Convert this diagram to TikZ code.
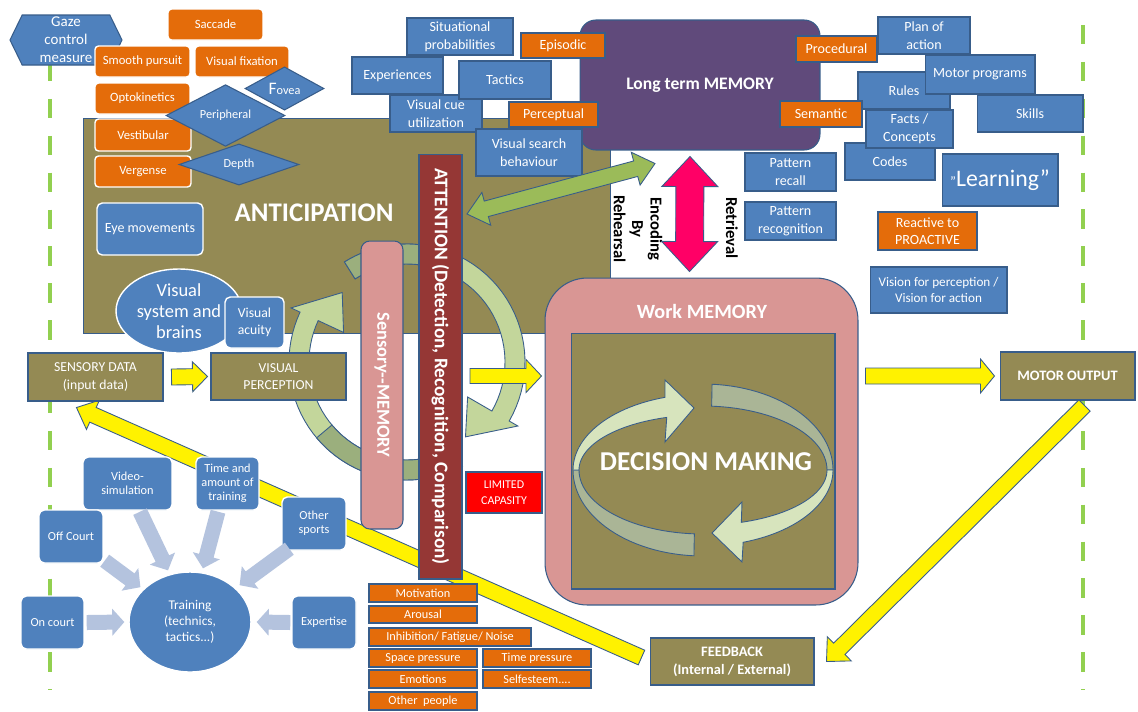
\documentclass[tikz,border=0pt]{standalone}
\usepackage{fontspec}
\setmainfont{Carlito}
\usepackage{tikz}
\usetikzlibrary{calc,shapes.geometric,shapes.symbols}
\definecolor{bbox}{HTML}{4F81BD}
\definecolor{obox}{HTML}{E46C0A}
\definecolor{lineblue}{HTML}{385D8A}
\definecolor{olive}{HTML}{948A54}
\definecolor{pinkbox}{HTML}{D99694}
\definecolor{attred}{HTML}{953735}
\definecolor{ltmpurple}{HTML}{604A7B}
\definecolor{dashgreen}{HTML}{92D050}
\definecolor{arrowgreen}{HTML}{9BBB59}
\definecolor{hotpink}{HTML}{FF0066}
\definecolor{circlight}{HTML}{C3D69B}
\definecolor{circdark}{HTML}{9BAF7D}
\definecolor{declight}{HTML}{D7E4BD}
\definecolor{decdark}{HTML}{AAB596}
\definecolor{tblue}{HTML}{B4C3DE}
\definecolor{limred}{HTML}{FF0000}
\pgfdeclarelayer{back}
\pgfsetlayers{back,main}

\begin{document}
\begin{tikzpicture}[x=0.02cm, y=-0.02cm]
    %
    \tikzset{
        plainbox/.style={inner sep=0pt, text=white, align=center},
        bb/.style={plainbox, fill=bbox, draw=lineblue, line width=0.6pt, font=\fontsize{8}{10}\selectfont},
        ob/.style={plainbox, fill=obox, draw=lineblue, line width=0.6pt, font=\fontsize{8}{10}\selectfont},
        orr/.style={plainbox, fill=obox, draw=white, line width=0.8pt, rounded corners=2pt, font=\fontsize{7.2}{8.6}\selectfont},
        brr/.style={plainbox, fill=bbox, draw=white, line width=0.8pt, rounded corners=3pt, font=\fontsize{7}{8}\selectfont},
        dia/.style={plainbox, diamond, fill=bbox, draw=lineblue, line width=0.6pt, font=\fontsize{7}{8}\selectfont},
        obx/.style={plainbox, fill=olive, draw=lineblue, line width=0.6pt, font=\fontsize{7.8}{10}\selectfont},
        stress/.style={ob, font=\fontsize{7}{8}\selectfont, minimum width=2.16cm, minimum height=0.36cm},
        dashline/.style={draw=dashgreen, line width=2.8pt, dash pattern=on 11pt off 10pt},
        yarrow/.style={fill=yellow, draw=lineblue, line width=0.5pt},
        tarrow/.style={fill=tblue, draw=none},
        garrow/.style={fill=arrowgreen, draw=lineblue, line width=0.5pt},
        parrow/.style={fill=hotpink, draw=lineblue, line width=0.5pt},
        clight/.style={fill=circlight, draw=lineblue, line width=0.5pt},
        cdark/.style={fill=circdark, draw=lineblue, line width=0.5pt},
        dlight/.style={fill=declight, draw=lineblue, line width=0.5pt},
        ddark/.style={fill=decdark, draw=lineblue, line width=0.5pt}
    }
    \useasboundingbox (0,0) rectangle (1138,711);

    %
    \begin{pgfonlayer}{back}
        \fill[white] (0,0) rectangle (1138,711);
        \draw[dashline] (50,62) -- (50,690);
        \draw[dashline] (1083,25) -- (1083,690);
    \end{pgfonlayer}

    %
    \node[fill=olive, draw=lineblue, line width=0.5pt, inner sep=0pt, minimum width=10.54cm, minimum height=4.30cm] (antic) at (346.5,225.5) {};
    \node[text=white, font=\bfseries\fontsize{15.3}{18}\selectfont] (anticlbl) at (314,213) {ANTICIPATION};

    %
    \node[signal, signal to=west and east, signal pointer angle=128, fill=bbox, draw=lineblue, line width=0.6pt, text=white, align=center, inner sep=0pt, minimum width=2.24cm, minimum height=1.0cm, font=\fontsize{8.5}{10.2}\selectfont] (gaze) at (66,40) {Gaze\\control\\measure};

    %
    \node[orr, minimum width=1.90cm, minimum height=0.62cm] (sacc) at (215.5,24.5) {Saccade};
    \node[orr, minimum width=1.90cm, minimum height=0.62cm] (smooth) at (142.5,61.5) {Smooth pursuit};
    \node[orr, minimum width=1.88cm, minimum height=0.62cm] (vfix) at (242,61.5) {Visual fixation};
    \node[orr, minimum width=1.90cm, minimum height=0.62cm] (opto) at (142.5,98.5) {Optokinetics};
    \node[orr, minimum width=1.92cm, minimum height=0.64cm] (vest) at (143,135) {Vestibular};
    \node[orr, minimum width=1.92cm, minimum height=0.62cm] (verg) at (143,171.5) {Vergense};

    %
    \node[dia, minimum width=1.58cm, minimum height=0.74cm] (fovea) at (284.5,88.5) {{\fontsize{10}{10}\selectfont F}ovea};
    \node[dia, minimum width=2.38cm, minimum height=0.74cm] (periph) at (225.5,115.5) {Peripheral};
    \node[dia, minimum width=2.40cm, minimum height=0.74cm] (depth) at (239,164.5) {Depth};

    %
    \node[brr, font=\fontsize{8}{10}\selectfont, minimum width=2.12cm, minimum height=1.04cm] (eyemov) at (150,229) {Eye movements};
    \node[plainbox, ellipse, fill=bbox, draw=white, line width=0.8pt, minimum width=2.52cm, minimum height=1.68cm, font=\fontsize{10.5}{12}\selectfont] (vsys) at (179,311) {Visual\\system and\\brains};
    \node[brr, font=\fontsize{7.8}{9.5}\selectfont, minimum width=1.18cm, minimum height=1.02cm] (vacuity) at (254.5,322.5) {Visual\\acuity};
    \node[obx, minimum width=2.70cm, minimum height=0.96cm] (sens) at (95.5,377) {SENSORY DATA\\(input data)};

    %
    \begin{scope}[shift={(407,362)}]
        \filldraw[clight] plot[domain=238:390, samples=40] ({118*cos(\x)},{118*sin(\x)}) -- ({128*cos(30)},{128*sin(30)}) -- ({95*cos(52)},{95*sin(52)}) -- ({70*cos(30)},{70*sin(30)}) -- plot[domain=390:238, samples=40] ({98*cos(\x)},{98*sin(\x)}) -- cycle;
        \filldraw[cdark] plot[domain=238:295, samples=20] ({118*cos(\x)},{118*sin(\x)}) -- plot[domain=295:238, samples=20] ({98*cos(\x)},{98*sin(\x)}) -- cycle;
        \filldraw[clight] plot[domain=62:205, samples=40] ({118*cos(\x)},{118*sin(\x)}) -- ({128*cos(205)},{128*sin(205)}) -- ({95*cos(227)},{95*sin(227)}) -- ({70*cos(205)},{70*sin(205)}) -- plot[domain=205:62, samples=40] ({98*cos(\x)},{98*sin(\x)}) -- cycle;
        \filldraw[cdark] plot[domain=62:140, samples=20] ({118*cos(\x)},{118*sin(\x)}) -- plot[domain=140:62, samples=20] ({98*cos(\x)},{98*sin(\x)}) -- cycle;
    \end{scope}

    %
    \node[obx, minimum width=2.70cm, minimum height=0.94cm] (vp) at (278.5,376.5) {VISUAL\\PERCEPTION};
    \node[plainbox, rotate=-90, fill=pinkbox, draw=lineblue, line width=0.6pt, rounded corners=5pt, minimum width=5.76cm, minimum height=0.84cm, font=\bfseries\fontsize{10.5}{12}\selectfont] (smem) at (382,385) {Sensory-{}-MEMORY};
    \node[plainbox, rotate=-90, fill=attred, draw=lineblue, line width=0.6pt, minimum width=8.50cm, minimum height=0.86cm, font=\bfseries\fontsize{11}{13}\selectfont] (att) at (440.5,366.5) {ATTENTION (Detection, Recognition, Comparison)};

    %
    \node[plainbox, fill=ltmpurple, draw=lineblue, line width=0.6pt, rounded corners=9pt, minimum width=4.80cm, minimum height=2.60cm, font=\bfseries\fontsize{10}{12}\selectfont] (ltm) at (700,85) {Long term MEMORY};

    %
    \node[bb, minimum width=2.12cm, minimum height=0.74cm] (situ) at (460,36.5) {Situational\\probabilities};
    \node[bb, minimum width=1.82cm, minimum height=0.74cm] (exper) at (397.5,75.5) {Experiences};
    \node[bb, minimum width=1.84cm, minimum height=0.74cm] (vcue) at (436,113.5) {Visual cue\\utilization};
    \node[bb, minimum width=1.84cm, minimum height=0.76cm] (tact) at (505,80) {Tactics};
    \node[bb, minimum width=2.12cm, minimum height=0.94cm] (vsearch) at (529,152.5) {Visual search\\behaviour};
    \node[ob, minimum width=1.68cm, minimum height=0.50cm] (epis) at (563,45.5) {Episodic};
    \node[ob, minimum width=1.78cm, minimum height=0.50cm] (perc) at (553.5,114.5) {Perceptual};

    %
    \node[bb, minimum width=1.84cm, minimum height=0.74cm] (plan) at (924,35.5) {Plan of\\action};
    \node[bb, minimum width=1.84cm, minimum height=0.74cm] (rules) at (904,90.5) {Rules};
    \node[bb, minimum width=2.20cm, minimum height=0.78cm] (motprog) at (980,74.5) {Motor programs};
    \node[bb, minimum width=2.12cm, minimum height=0.74cm] (skills) at (1030,113.5) {Skills};
    \node[bb, minimum width=1.80cm, minimum height=0.74cm] (codes) at (890,161.5) {Codes};
    \node[bb, minimum width=1.74cm, minimum height=0.76cm] (facts) at (909.5,129) {Facts /\\Concepts};
    \node[ob, minimum width=1.62cm, minimum height=0.52cm] (proc) at (836.5,49) {Procedural};
    \node[ob, minimum width=1.64cm, minimum height=0.52cm] (sema) at (821,114) {Semantic};
    \node[bb, font=\fontsize{13.5}{15}\selectfont, minimum width=2.32cm, minimum height=1.04cm] (learn) at (1000,180) {{\fontsize{8}{8}\selectfont ”}Learning”};
    \node[bb, minimum width=1.82cm, minimum height=0.76cm] (precall) at (790.5,172) {Pattern\\recall};
    \node[bb, minimum width=1.82cm, minimum height=0.76cm] (precog) at (790.5,221) {Pattern\\recognition};
    \node[ob, minimum width=1.98cm, minimum height=0.76cm] (react) at (927.5,231) {Reactive to\\PROACTIVE};
    \node[bb, font=\fontsize{7.5}{9.2}\selectfont, minimum width=2.74cm, minimum height=0.92cm] (vision) at (938.5,290) {Vision for perception /\\Vision for action};

    %
    \node[fill=pinkbox, draw=lineblue, line width=0.6pt, rounded corners=24pt, inner sep=0pt, minimum width=6.26cm, minimum height=6.54cm] (wm) at (701.5,441.5) {};
    \node[fill=olive, draw=lineblue, line width=0.6pt, inner sep=0pt, minimum width=5.28cm, minimum height=5.12cm] (dm) at (703,461) {};
    \node[text=white, font=\bfseries\fontsize{11.5}{13}\selectfont] (wmlbl) at (702,311) {Work MEMORY};
    \begin{scope}[shift={(703,470)}]
        \filldraw[ddark] plot[domain=274:360, samples=30] ({130*cos(\x)},{86*sin(\x)}) -- plot[domain=360:274, samples=30] ({124*cos(\x)},{64*sin(\x)}) -- cycle;
        \filldraw[ddark] plot[domain=94:180, samples=30] ({130*cos(\x)},{86*sin(\x)}) -- plot[domain=180:94, samples=30] ({124*cos(\x)},{64*sin(\x)}) -- cycle;
        \filldraw[dlight] plot[domain=180:253, samples=30] ({130*cos(\x)},{76*sin(\x)}) -- (-38,-90) -- (-9,-62) -- (-38,-28) -- plot[domain=253:180, samples=30] ({124*cos(\x)},{55*sin(\x)}) -- cycle;
        \filldraw[dlight] plot[domain=0:72, samples=30] ({130*cos(\x)},{76*sin(\x)}) -- (39,92) -- (9,63) -- (39,32) -- plot[domain=72:0, samples=30] ({124*cos(\x)},{55*sin(\x)}) -- cycle;
    \end{scope}
    \node[text=white, font=\bfseries\fontsize{15.5}{18}\selectfont] (dmlbl) at (706,462) {DECISION MAKING};

    %
    \node[plainbox, fill=limred, draw=lineblue, line width=0.6pt, minimum width=1.52cm, minimum height=0.82cm, font=\fontsize{6.8}{9}\selectfont] (limit) at (504,492.5) {LIMITED\\CAPASITY};
    \node[obx, font=\bfseries\fontsize{8.2}{10}\selectfont, minimum width=2.70cm, minimum height=0.96cm] (motor) at (1067.5,376) {MOTOR OUTPUT};
    \node[obx, font=\bfseries\fontsize{8.2}{10.3}\selectfont, minimum width=3.28cm, minimum height=0.94cm] (fb) at (732,661.5) {FEEDBACK\\(Internal / External)};

    %
    \node[rotate=-90, align=center, font=\bfseries\fontsize{9.5}{10.5}\selectfont] (enc) at (638,229) {Encoding\\By\\Rehearsal};
    \node[rotate=-90, font=\bfseries\fontsize{9.5}{10.5}\selectfont] (retr) at (732,228) {Retrieval};

    %
    \node[brr, minimum width=1.78cm, minimum height=1.06cm] (video) at (127.5,483.5) {Video-\\simulation};
    \node[brr, minimum width=1.26cm, minimum height=1.06cm] (time) at (227.5,483.5) {Time and\\amount of\\training};
    \node[brr, minimum width=1.28cm, minimum height=1.06cm] (off) at (71,536.5) {Off Court};
    \node[brr, minimum width=1.28cm, minimum height=1.06cm] (other) at (314,523.5) {Other\\sports};
    \node[brr, minimum width=1.26cm, minimum height=1.06cm] (oncourt) at (52.5,622.5) {On court};
    \node[brr, minimum width=1.28cm, minimum height=1.06cm] (expert) at (324,622.5) {Expertise};
    \node[plainbox, ellipse, fill=bbox, draw=white, line width=0.8pt, minimum width=2.44cm, minimum height=2.00cm, font=\fontsize{7.6}{9}\selectfont] (train) at (190,622) {Training\\(technics,\\tactics...)};

    %
    \node[stress] (motiv) at (423,593) {Motivation};
    \node[stress, minimum height=0.34cm] (arous) at (423,614.5) {Arousal};
    \node[stress, minimum width=3.24cm] (inhib) at (450,637) {Inhibition/ Fatigue/ Noise};
    \node[stress] (space) at (423,658) {Space pressure};
    \node[stress] (tpress) at (537,658) {Time pressure};
    \node[stress] (emot) at (423,679) {Emotions};
    \node[stress] (selfest) at (537,679) {Selfesteem....};
    \node[stress] (othp) at (423,701) {Other\ \ people};

    %
    \coordinate (s2vA) at ($(sens.east)+(8,0)$);
    \coordinate (s2vB) at ($(vp.west)+(-3,0)$);
    \coordinate (a2wA) at ($(att.center |- motor.west)+(29.5,0)$);
    \coordinate (a2wB) at ($(wm.west |- motor.west)+(-3,0)$);
    \coordinate (w2mA) at ($(wm.east |- motor.west)+(7,0)$);
    \coordinate (w2mB) at ($(motor.west)+(-5,0)$);
    \coordinate (m2fA) at ($(motor.south)+(17,5)$);
    \coordinate (m2fB) at ($(fb.east)+(12,0)$);
    \coordinate (f2sA) at ($(fb.west)+(-8,-4)$);
    \coordinate (f2sB) at ($(sens.south west)+(49,6)$);
    \coordinate (oncA) at ($(oncourt.east)+(2,0)$);
    \coordinate (oncB) at ($(train.west)+(-4,0)$);
    \coordinate (expA) at ($(expert.west)+(-1,0)$);
    \coordinate (expB) at ($(train.east)+(5,0)$);
    \coordinate (offA) at ($(off.south east)+(1,-3)$);
    \coordinate (offB) at ($(train.north west)+(-6,1)$);
    \coordinate (vidA) at ($(video.south)+(12.5,1)$);
    \coordinate (vidB) at ($(train.north)+(-22,-1)$);
    \coordinate (timA) at ($(time.south)+(-9.5,1)$);
    \coordinate (timB) at ($(train.north)+(13,-3)$);
    \coordinate (othA) at ($(other.south west)+(8,-2)$);
    \coordinate (othB) at ($(train.north east)+(6,-1)$);
    \coordinate (grnA) at ($(att.center)+(26.5,-152.5)$);
    \coordinate (grnB) at ($(ltm.south)+(-45,13)$);
    \coordinate (pnkA) at ($(ltm.south)+(-10,6)$);
    \coordinate (pnkB) at ($(wm.north)+(-12,-6)$);

    %
    \foreach \src/\dst/\sw/\hw/\hl/\sty in {s2vA/s2vB/0.16cm/0.30cm/0.30cm/yarrow, a2wA/a2wB/0.15cm/0.33cm/0.31cm/yarrow, w2mA/w2mB/0.16cm/0.34cm/0.28cm/yarrow, oncA/oncB/0.15cm/0.27cm/0.24cm/tarrow, expA/expB/0.15cm/0.27cm/0.24cm/tarrow, offA/offB/0.15cm/0.28cm/0.26cm/tarrow, vidA/vidB/0.15cm/0.28cm/0.26cm/tarrow, timA/timB/0.15cm/0.28cm/0.26cm/tarrow, othA/othB/0.15cm/0.28cm/0.26cm/tarrow} {
        \coordinate (hb) at ($(\dst)!\hl!(\src)$);
        \filldraw[\sty] ($(\src)!\sw!90:(\dst)$) -- ($(hb)!\sw!90:(\dst)$) -- ($(hb)!\hw!90:(\dst)$) -- (\dst) -- ($(hb)!\hw!-90:(\dst)$) -- ($(hb)!\sw!-90:(\dst)$) -- ($(\src)!\sw!-90:(\dst)$) -- cycle;
    }

    %
    \foreach \src/\dst/\sw/\hw/\hl/\sty in {pnkA/pnkB/0.28cm/0.56cm/0.60cm/parrow, grnA/grnB/0.16cm/0.34cm/0.40cm/garrow} {
        \coordinate (ha) at ($(\src)!\hl!(\dst)$);
        \coordinate (hb) at ($(\dst)!\hl!(\src)$);
        \filldraw[\sty] (\src) -- ($(ha)!\hw!90:(\dst)$) -- ($(ha)!\sw!90:(\dst)$) -- ($(hb)!\sw!90:(\dst)$) -- ($(hb)!\hw!90:(\dst)$) -- (\dst) -- ($(hb)!\hw!-90:(\dst)$) -- ($(hb)!\sw!-90:(\dst)$) -- ($(ha)!\sw!-90:(\dst)$) -- ($(ha)!\hw!-90:(\dst)$) -- cycle;
    }

    %
    \begin{pgfonlayer}{back}
        \foreach \src/\dst/\sw/\hw/\hl in {m2fA/m2fB/0.16cm/0.34cm/0.36cm, f2sA/f2sB/0.16cm/0.32cm/0.36cm} {
            \coordinate (hb) at ($(\dst)!\hl!(\src)$);
            \filldraw[yarrow] ($(\src)!\sw!90:(\dst)$) -- ($(hb)!\sw!90:(\dst)$) -- ($(hb)!\hw!90:(\dst)$) -- (\dst) -- ($(hb)!\hw!-90:(\dst)$) -- ($(hb)!\sw!-90:(\dst)$) -- ($(\src)!\sw!-90:(\dst)$) -- cycle;
        }
    \end{pgfonlayer}

\end{tikzpicture}
\end{document}
